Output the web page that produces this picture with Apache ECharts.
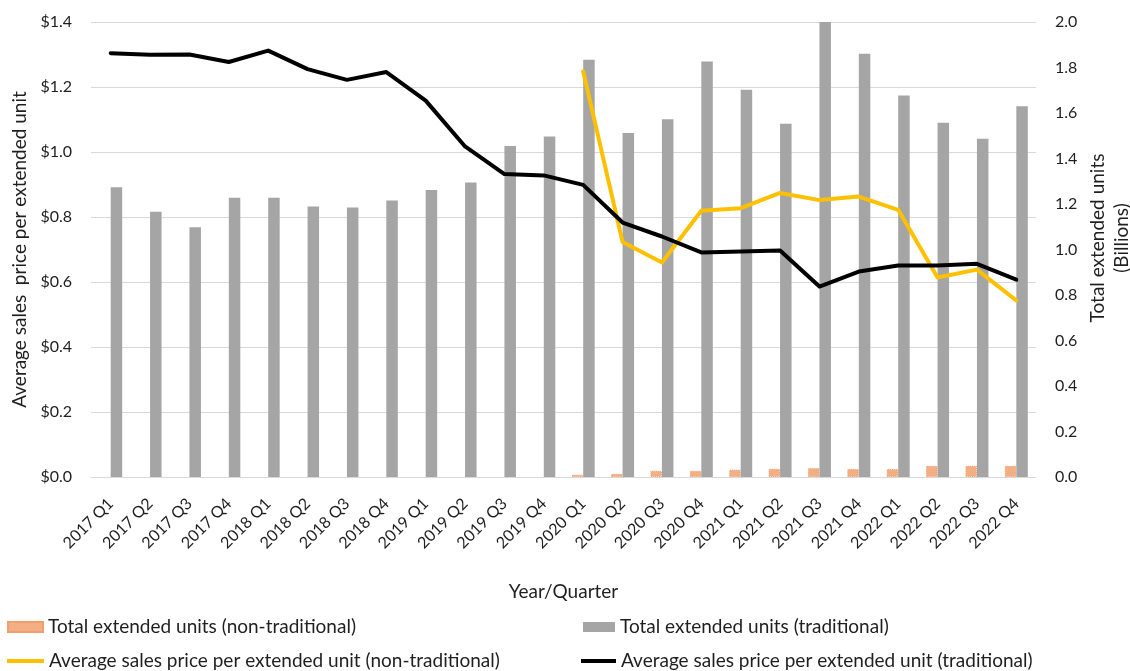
<!DOCTYPE html>
<html>
<head>
<meta charset="utf-8">
<title>Extended units and average sales price</title>
<script src="https://cdn.jsdelivr.net/npm/echarts@6/dist/echarts.min.js"></script>
<style>
  html, body { margin: 0; padding: 0; background: #ffffff; }
  #chart { width: 1130px; height: 671px; }
</style>
</head>
<body>
<div id="chart"></div>
<script>
// Quarters on the category axis
const categories = [
  '2017 Q1', '2017 Q2', '2017 Q3', '2017 Q4',
  '2018 Q1', '2018 Q2', '2018 Q3', '2018 Q4',
  '2019 Q1', '2019 Q2', '2019 Q3', '2019 Q4',
  '2020 Q1', '2020 Q2', '2020 Q3', '2020 Q4',
  '2021 Q1', '2021 Q2', '2021 Q3', '2021 Q4',
  '2022 Q1', '2022 Q2', '2022 Q3', '2022 Q4'
];

// Total extended units, billions (right axis)
const nonTradUnits = [
  null, null, null, null, null, null, null, null, null, null, null, null,
  0.010, 0.014, 0.027, 0.027, 0.032, 0.036, 0.039, 0.035, 0.035, 0.049, 0.049, 0.049
];
const tradUnits = [
  1.274, 1.166, 1.098, 1.227, 1.227, 1.189, 1.185, 1.215, 1.262, 1.295, 1.455, 1.497,
  1.834, 1.512, 1.573, 1.826, 1.702, 1.553, 2.000, 1.860, 1.677, 1.557, 1.487, 1.630
];

// Average sales price per extended unit, dollars (left axis)
const nonTradPrice = [
  null, null, null, null, null, null, null, null, null, null, null, null,
  1.248, 0.723, 0.660, 0.819, 0.827, 0.874, 0.852, 0.863, 0.822, 0.614, 0.638, 0.543
];
const tradPrice = [
  1.304, 1.299, 1.300, 1.277, 1.312, 1.255, 1.222, 1.246, 1.158, 1.017, 0.932, 0.928,
  0.899, 0.783, 0.740, 0.691, 0.694, 0.697, 0.586, 0.632, 0.651, 0.651, 0.656, 0.607
];

const seriesNames = {
  nonTradUnits: 'Total extended units (non-traditional)',
  tradUnits: 'Total extended units (traditional)',
  nonTradPrice: 'Average sales price per extended unit (non-traditional)',
  tradPrice: 'Average sales price per extended unit (traditional)'
};

const FONT = 'Lato, "Open Sans", sans-serif';
const TEXT = '#1f1f1f';
const GRID_LINE = '#D9D9D9';
const COLORS = {
  nonTradBar: '#F4AE84',
  tradBar: '#A5A5A5',
  nonTradLine: '#FFC000',
  tradLine: '#000000'
};

const chart = echarts.init(document.getElementById('chart'), null, { renderer: 'canvas' });

const legendText = { fontFamily: FONT, fontSize: 19, color: TEXT, lineHeight: 22 };

// One legend entry per component so each swatch keeps its own size
function legendEntry(name, left, top, w, h) {
  return {
    left: left, top: top,
    itemWidth: w, itemHeight: h, itemGap: 0,
    textStyle: legendText,
    selectedMode: false,
    data: [{ name: name, icon: 'rect' }]
  };
}

chart.setOption({
  animation: false,
  backgroundColor: '#ffffff',
  textStyle: { fontFamily: FONT },
  grid: { left: 91, right: 94, top: 22, bottom: 194, containLabel: false },
  legend: [
    legendEntry(seriesNames.nonTradUnits, 2, 611, 35, 10),
    legendEntry(seriesNames.nonTradPrice, 2, 645, 37, 4),
    legendEntry(seriesNames.tradUnits, 578, 611, 32, 10),
    legendEntry(seriesNames.tradPrice, 576, 645, 35, 4)
  ],
  xAxis: {
    type: 'category',
    data: categories,
    boundaryGap: true,
    name: 'Year/Quarter',
    nameLocation: 'middle',
    nameGap: 105,
    nameTextStyle: { fontFamily: FONT, fontSize: 19, color: TEXT },
    axisLine: { show: true, lineStyle: { color: GRID_LINE, width: 1 } },
    axisTick: { show: false },
    axisLabel: {
      interval: 0, rotate: 45, margin: 24,
      fontFamily: FONT, fontSize: 16, color: TEXT
    },
    splitLine: { show: false }
  },
  yAxis: [
    {
      type: 'value',
      min: 0, max: 1.4, interval: 0.2,
      name: 'Average sales  price per extended unit',
      nameLocation: 'middle',
      nameGap: 62,
      nameRotate: 90,
      nameTextStyle: { fontFamily: FONT, fontSize: 19, color: TEXT },
      axisLine: { show: false },
      axisTick: { show: false },
      axisLabel: {
        margin: 19, fontFamily: FONT, fontSize: 16, color: TEXT,
        formatter: v => '$' + v.toFixed(1)
      },
      splitLine: { show: true, lineStyle: { color: GRID_LINE, width: 1 } }
    },
    {
      type: 'value',
      position: 'right',
      min: 0, max: 2.0, interval: 0.2,
      axisLine: { show: false },
      axisTick: { show: false },
      axisLabel: {
        margin: 19, fontFamily: FONT, fontSize: 16, color: TEXT,
        formatter: v => v.toFixed(1)
      },
      splitLine: { show: false }
    }
  ],
  graphic: [
    {
      type: 'text',
      x: 1098, y: 238, rotation: Math.PI / 2,
      style: {
        text: 'Total extended units',
        fontFamily: FONT, fontSize: 19, fill: TEXT,
        align: 'center', verticalAlign: 'middle'
      }
    },
    {
      type: 'text',
      x: 1122, y: 238, rotation: Math.PI / 2,
      style: {
        text: '(Billions)',
        fontFamily: FONT, fontSize: 19, fill: TEXT,
        align: 'center', verticalAlign: 'middle'
      }
    }
  ],
  series: [
    {
      name: seriesNames.nonTradUnits,
      type: 'bar',
      yAxisIndex: 1,
      data: nonTradUnits,
      barWidth: 11.5,
      barGap: '0%',
      itemStyle: {
        color: COLORS.nonTradBar,
        borderColor: '#F19E6C',
        borderType: 'dotted',
        borderWidth: 1
      },
      z: 2
    },
    {
      name: seriesNames.tradUnits,
      type: 'bar',
      yAxisIndex: 1,
      data: tradUnits,
      barWidth: 11.5,
      barGap: '0%',
      itemStyle: { color: COLORS.tradBar },
      z: 2
    },
    {
      name: seriesNames.nonTradPrice,
      type: 'line',
      yAxisIndex: 0,
      data: nonTradPrice,
      symbol: 'none',
      showSymbol: false,
      connectNulls: false,
      lineStyle: { color: COLORS.nonTradLine, width: 4, cap: 'round', join: 'round' },
      itemStyle: { color: COLORS.nonTradLine },
      z: 4
    },
    {
      name: seriesNames.tradPrice,
      type: 'line',
      yAxisIndex: 0,
      data: tradPrice,
      symbol: 'none',
      showSymbol: false,
      lineStyle: { color: COLORS.tradLine, width: 4, cap: 'round', join: 'round' },
      itemStyle: { color: COLORS.tradLine },
      z: 5
    }
  ]
});
</script>
</body>
</html>
